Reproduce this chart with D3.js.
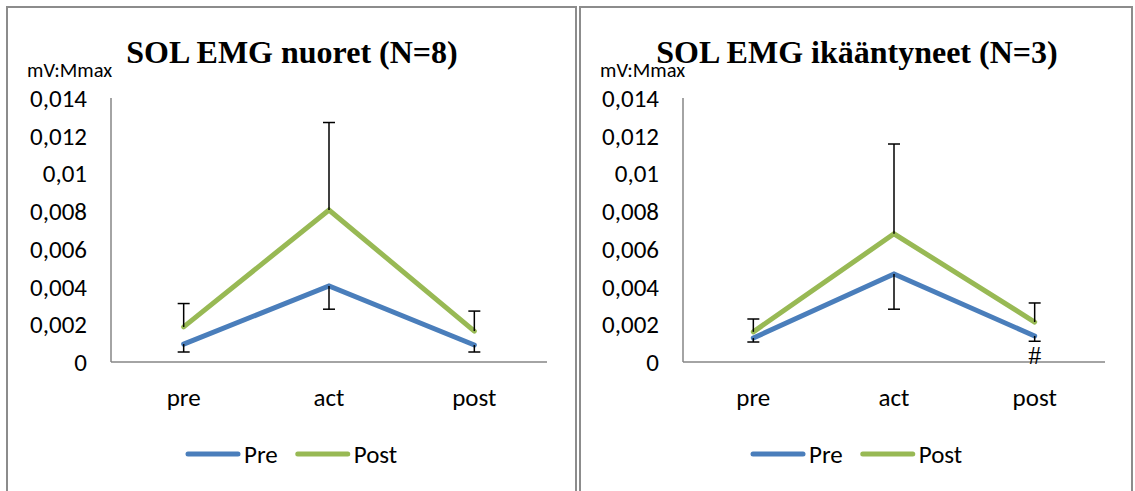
<!DOCTYPE html>
<html><head><meta charset="utf-8">
<script src="https://cdn.jsdelivr.net/npm/d3@7"></script>
<style>body{margin:0;background:#fff}svg{display:block}</style>
</head><body>
<svg id="c" width="1135" height="491"></svg>
<script>
const categories = ["pre", "act", "post"];
const seriesNames = ["Pre", "Post"];
const yTicks = [0, 0.002, 0.004, 0.006, 0.008, 0.01, 0.012, 0.014];
const yUnit = "mV:Mmax";

const titleYoung = "SOL EMG nuoret (N=8)";
const preYoung = [0.00095, 0.00403, 0.0009];
const postYoung = [0.00186, 0.00806, 0.00164];
const preYoungErr = [0.00042, 0.00123, 0.00037];   // drawn downward
const postYoungErr = [0.00124, 0.00464, 0.00106];  // drawn upward

const titleOld = "SOL EMG ikääntyneet (N=3)";
const preOld = [0.00127, 0.00467, 0.00138];
const postOld = [0.0016, 0.0068, 0.00212];
const preOldErr = [0.00021, 0.00187, 0.00028];
const postOldErr = [0.00068, 0.00476, 0.00101];
const markOld = ["", "", "#"];

const colors = {Pre: "#4a7ebb", Post: "#98b954"};
const fmt = v => v === 0 ? "0" : String(+v.toFixed(3)).replace(".", ",");
const sans = "Carlito, Lato, 'Open Sans', sans-serif";

const svg = d3.select("#c");

function panel(cfg) {
  const g = svg.append("g");
  g.append("path")
    .attr("d", `M${cfg.bx0},495 V${cfg.by0} H${cfg.bx1} V495`)
    .attr("fill", "none").attr("stroke", "#8c8c8c").attr("stroke-width", 2);

  const x = d3.scaleBand().domain(categories).range([cfg.x0, cfg.x1]);
  const y = d3.scaleLinear().domain([0, 0.014]).range([cfg.yBot, cfg.yTop]);

  g.append("line").attr("x1", cfg.x0).attr("x2", cfg.x0).attr("y1", cfg.yTop).attr("y2", cfg.yBot)
    .attr("stroke", "#868686").attr("stroke-width", 1.5);
  g.append("line").attr("x1", cfg.x0).attr("x2", cfg.x1).attr("y1", cfg.yBot).attr("y2", cfg.yBot)
    .attr("stroke", "#868686").attr("stroke-width", 1.5);

  g.selectAll(".yt").data(yTicks).enter().append("text")
    .attr("x", cfg.x0 - 24).attr("y", d => y(d)).attr("dy", "0.36em")
    .attr("text-anchor", "end").attr("font-family", sans).attr("font-size", 25)
    .attr("fill", "#000").text(fmt);

  g.selectAll(".xt").data(categories).enter().append("text")
    .attr("x", d => x(d) + x.bandwidth() / 2).attr("y", cfg.yBot + 44)
    .attr("text-anchor", "middle").attr("font-family", sans).attr("font-size", 25)
    .attr("fill", "#000").text(d => d);

  g.append("text").attr("x", cfg.unitX).attr("y", 77).attr("font-family", sans)
    .attr("font-size", 20.5).attr("fill", "#000").text(yUnit);

  g.append("text").attr("x", cfg.titleX).attr("y", 63).attr("text-anchor", "middle")
    .attr("font-family", "'Liberation Serif', 'Times New Roman', serif").attr("font-weight", "bold")
    .attr("font-size", 32).attr("fill", "#000").text(cfg.title);

  const cx = d => x(d) + x.bandwidth() / 2;
  const line = d3.line().x((d, i) => cx(categories[i])).y(d => y(d));

  [["Pre", cfg.pre], ["Post", cfg.post]].forEach(([name, vals]) => {
    g.append("path").datum(vals).attr("d", line).attr("fill", "none")
      .attr("stroke", colors[name]).attr("stroke-width", 5)
      .attr("stroke-linejoin", "miter").attr("stroke-linecap", "round");
  });

  const cap = 6;
  categories.forEach((c, i) => {
    const xc = cx(c);
    const top = y(cfg.post[i] + cfg.postErr[i]);
    g.append("line").attr("x1", xc).attr("x2", xc).attr("y1", y(cfg.post[i])).attr("y2", top)
      .attr("stroke", "#000").attr("stroke-width", 1.5);
    g.append("line").attr("x1", xc - cap).attr("x2", xc + cap).attr("y1", top).attr("y2", top)
      .attr("stroke", "#000").attr("stroke-width", 1.5);
    const bot = y(cfg.pre[i] - cfg.preErr[i]);
    g.append("line").attr("x1", xc).attr("x2", xc).attr("y1", y(cfg.pre[i])).attr("y2", bot)
      .attr("stroke", "#000").attr("stroke-width", 1.5);
    g.append("line").attr("x1", xc - cap).attr("x2", xc + cap).attr("y1", bot).attr("y2", bot)
      .attr("stroke", "#000").attr("stroke-width", 1.5);
    if (cfg.marks && cfg.marks[i]) {
      g.append("text").attr("x", xc).attr("y", bot + 23).attr("text-anchor", "middle")
        .attr("font-family", "'Liberation Serif', serif").attr("font-size", 26)
        .attr("fill", "#000").text(cfg.marks[i]);
    }
  });

  let lx = cfg.legX;
  seriesNames.forEach(name => {
    g.append("line").attr("x1", lx).attr("x2", lx + 50).attr("y1", 454).attr("y2", 454)
      .attr("stroke", colors[name]).attr("stroke-width", 5).attr("stroke-linecap", "round");
    const t = g.append("text").attr("x", lx + 56).attr("y", 454).attr("dy", "0.36em")
      .attr("font-family", sans).attr("font-size", 25).attr("fill", "#000").text(name);
    lx += 56 + t.node().getComputedTextLength() + 20;
  });
}

panel({bx0: 7, bx1: 576, by0: 7, x0: 111, x1: 547, yTop: 98, yBot: 362,
  unitX: 27, titleX: 292, title: titleYoung, pre: preYoung, post: postYoung,
  preErr: preYoungErr, postErr: postYoungErr, legX: 188});
panel({bx0: 580, bx1: 1132, by0: 7, x0: 683, x1: 1105, yTop: 98, yBot: 362,
  unitX: 600, titleX: 857, title: titleOld, pre: preOld, post: postOld,
  preErr: preOldErr, postErr: postOldErr, marks: markOld, legX: 753});
</script>
</body></html>
